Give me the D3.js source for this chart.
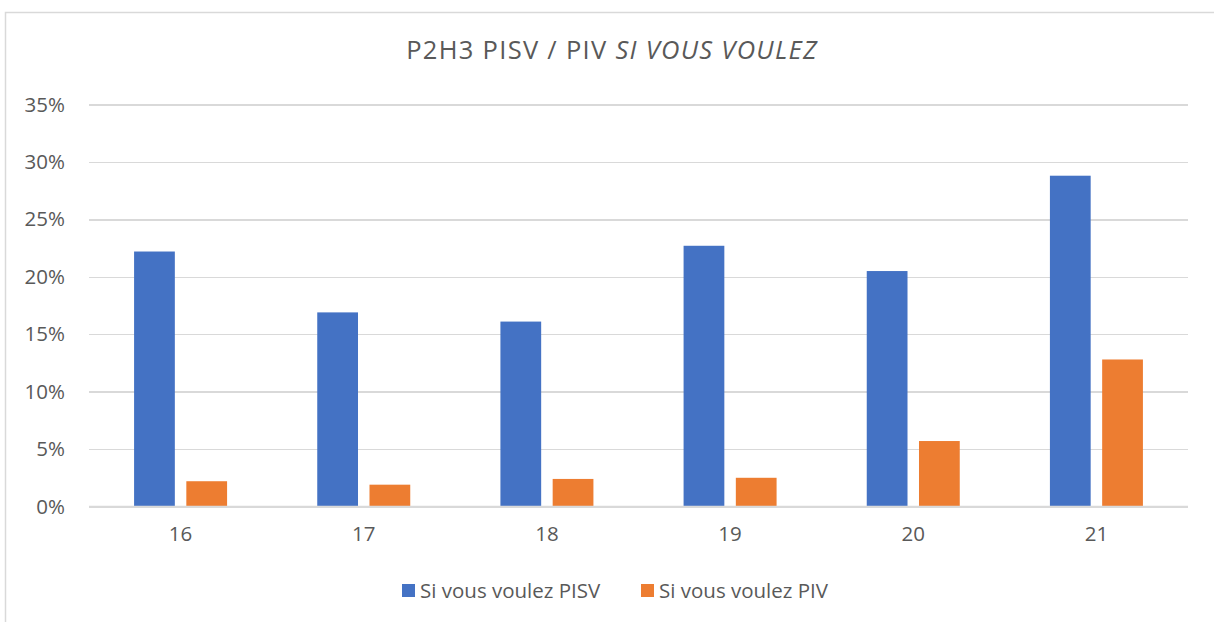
<!DOCTYPE html>
<html lang="fr">
<head>
    <meta charset="UTF-8">
    <title>P2H3 PISV / PIV</title>
    <script src="https://d3js.org/d3.v7.min.js"></script>
    <style>
        body {
            margin: 0;
            background: #fff;
        }
        text {
            font-family: "Open Sans", sans-serif;
            fill: #595959;
        }
        .grid line {
            stroke: #d9d9d9;
            stroke-width: 1.5;
            shape-rendering: crispEdges;
        }
        .domain {
            display: none;
        }
    </style>
</head>
<body>
<script>
    // data
    var categories = ["16", "17", "18", "19", "20", "21"];
    var seriesNames = ["Si vous voulez PISV", "Si vous voulez PIV"];
    var pisv = [0.222, 0.169, 0.161, 0.227, 0.205, 0.288];
    var piv = [0.022, 0.019, 0.024, 0.025, 0.057, 0.128];
    var yTicks = [0, 0.05, 0.10, 0.15, 0.20, 0.25, 0.30, 0.35];
    var colors = ["#4472c4", "#ed7d31"];

    var width = 1214;
    var height = 622;
    var plot = {left: 89, right: 1188, top: 104.5, bottom: 506.5};

    var svg = d3.select("body").append("svg")
            .attr("width", width)
            .attr("height", height);

    // chart frame
    svg.append("rect")
            .attr("x", 5.5).attr("y", 12.5)
            .attr("width", width + 10).attr("height", height + 10)
            .attr("fill", "none")
            .attr("stroke", "#d9d9d9")
            .attr("stroke-width", 1.5);

    var x0 = d3.scaleBand()
            .domain(categories)
            .range([plot.left, plot.right]);
    var step = x0.step();
    var x1 = d3.scaleBand()
            .domain(seriesNames)
            .range([step / 2 - 46.5, step / 2 + 46.5])
            .paddingInner(0.22);
    var y = d3.scaleLinear()
            .domain([0, 0.35])
            .range([plot.bottom, plot.top]);

    // gridlines + y labels
    var yAxis = d3.axisLeft(y)
            .tickValues(yTicks)
            .tickFormat(d3.format(".0%"))
            .tickSize(-(plot.right - plot.left))
            .tickPadding(24);
    var gy = svg.append("g")
            .attr("class", "grid")
            .attr("transform", "translate(" + plot.left + ",0)")
            .call(yAxis);
    gy.selectAll("text")
            .style("font-size", "20.5px")
            .attr("fill", "#595959");

    // x labels
    var xAxis = d3.axisBottom(x0)
            .tickSize(0)
            .tickPadding(20);
    var gx = svg.append("g")
            .attr("transform", "translate(0," + plot.bottom + ")")
            .call(xAxis);
    gx.selectAll("text")
            .style("font-size", "20.5px")
            .attr("fill", "#595959");

    var rows = categories.map(function (c, i) {
        return {cat: c, values: [pisv[i], piv[i]]};
    });

    var groups = svg.selectAll(".group")
            .data(rows)
            .enter()
            .append("g")
            .attr("class", "group")
            .attr("transform", function (d) {
                return "translate(" + x0(d.cat) + ",0)";
            });

    groups.selectAll("rect")
            .data(function (d) {
                return d.values.map(function (v, j) {
                    return {name: seriesNames[j], value: v, idx: j};
                });
            })
            .enter()
            .append("rect")
            .attr("x", function (d) { return x1(d.name); })
            .attr("width", x1.bandwidth())
            .attr("y", function (d) { return y(d.value); })
            .attr("height", function (d) { return y(0) - y(d.value); })
            .attr("fill", function (d) { return colors[d.idx]; });

    // zero line on top
    svg.append("line")
            .attr("x1", plot.left).attr("x2", plot.right)
            .attr("y1", y(0)).attr("y2", y(0))
            .attr("stroke", "#d9d9d9")
            .attr("stroke-width", 1.5);

    // title
    var title = svg.append("text")
            .attr("x", 612)
            .attr("y", 59)
            .attr("text-anchor", "middle")
            .style("font-size", "25.5px")
            .style("letter-spacing", "1.3px");
    title.append("tspan").text("P2H3 PISV / PIV ");
    title.append("tspan").style("font-style", "italic").text("SI VOUS VOULEZ");

    // legend
    var legendX = [402, 641];
    var legend = svg.selectAll(".legend")
            .data(seriesNames)
            .enter()
            .append("g")
            .attr("class", "legend")
            .attr("transform", function (d, i) {
                return "translate(" + legendX[i] + ",584)";
            });
    legend.append("rect")
            .attr("width", 13).attr("height", 13)
            .attr("fill", function (d, i) { return colors[i]; });
    legend.append("text")
            .attr("x", 18)
            .attr("y", 13.5)
            .style("font-size", "20.5px")
            .text(function (d) { return d; });
</script>
</body>
</html>
